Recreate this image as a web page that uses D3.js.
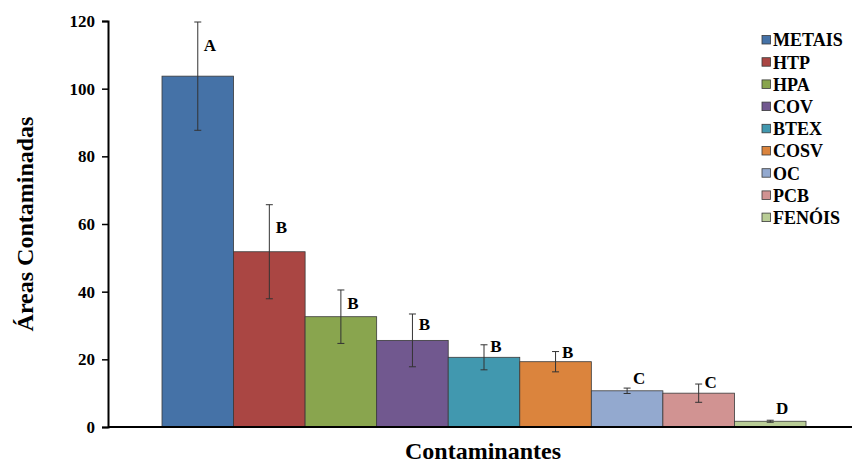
<!DOCTYPE html>
<html>
<head>
<meta charset="utf-8">
<script src="https://cdn.jsdelivr.net/npm/d3@7"></script>
<style>
  html, body { margin: 0; padding: 0; background: #fff; }
  svg { display: block; }
  text { font-family: "Liberation Serif", "Times New Roman", serif; font-weight: bold; fill: #000; }
</style>
</head>
<body>
<svg id="chart" width="852" height="465"></svg>
<script>
// Contaminant groups, mean number of contaminated areas, error and significance letters
const categories = ["METAIS", "HTP", "HPA", "COV", "BTEX", "COSV", "OC", "PCB", "FENÓIS"];
const values     = [103.7, 51.8, 32.6, 25.6, 20.6, 19.3, 10.7, 10.0, 1.7];
const errors     = [16.0, 13.9, 7.9, 7.8, 3.7, 3.0, 0.8, 2.7, 0.3];
const letters    = ["A", "B", "B", "B", "B", "B", "C", "C", "D"];
const letterAt   = [112.9, 59.2, 36.6, 30.4, 23.9, 22.1, 14.4, 13.2, 5.7];
const colors     = ["#4572A7", "#AA4643", "#89A54E", "#71588F", "#4198AF",
                    "#DB843D", "#93A9CF", "#D19392", "#B9CD96"];
const yTicks     = [0, 20, 40, 60, 80, 100, 120];

const svg = d3.select("#chart");

const y = d3.scaleLinear().domain([0, 120]).range([427, 21]);
const x = d3.scaleBand().domain(categories).range([162, 806]).padding(0);
const color = d3.scaleOrdinal().domain(categories).range(colors);

// bars
svg.append("g")
  .selectAll("rect")
  .data(categories)
  .join("rect")
  .attr("x", d => x(d))
  .attr("y", (d, i) => y(values[i]))
  .attr("width", x.bandwidth())
  .attr("height", (d, i) => y(0) - y(values[i]))
  .attr("fill", d => color(d))
  .attr("stroke", "#3a3a3a")
  .attr("stroke-width", 0.8);

// error bars
const eb = svg.append("g")
  .attr("stroke", "#333")
  .attr("stroke-width", 1)
  .selectAll("g")
  .data(categories)
  .join("g")
  .attr("transform", d => `translate(${x(d) + x.bandwidth() / 2},0)`);
eb.append("line")
  .attr("y1", (d, i) => y(values[i] + errors[i]))
  .attr("y2", (d, i) => y(values[i] - errors[i]));
eb.append("line")
  .attr("x1", -3.5).attr("x2", 3.5)
  .attr("y1", (d, i) => y(values[i] + errors[i]))
  .attr("y2", (d, i) => y(values[i] + errors[i]));
eb.append("line")
  .attr("x1", -3.5).attr("x2", 3.5)
  .attr("y1", (d, i) => y(values[i] - errors[i]))
  .attr("y2", (d, i) => y(values[i] - errors[i]));

// significance letters
svg.append("g")
  .selectAll("text")
  .data(categories)
  .join("text")
  .attr("x", d => x(d) + x.bandwidth() / 2 + 12)
  .attr("y", (d, i) => y(letterAt[i]))
  .attr("dy", "0.35em")
  .attr("text-anchor", "middle")
  .attr("font-size", 17)
  .text((d, i) => letters[i]);

// y axis
const yAxis = svg.append("g")
  .attr("transform", "translate(108,0)")
  .call(d3.axisLeft(y).tickValues(yTicks).tickSize(6).tickPadding(7));
yAxis.select(".domain").attr("stroke", "#000").attr("stroke-width", 2);
yAxis.selectAll(".tick line").attr("stroke", "#000").attr("stroke-width", 1.5);
yAxis.selectAll(".tick text")
  .attr("font-family", "Liberation Serif, Times New Roman, serif")
  .attr("font-weight", "bold")
  .attr("font-size", 17)
  .attr("fill", "#000");

// x axis baseline
svg.append("line")
  .attr("x1", 108).attr("x2", 852)
  .attr("y1", y(0)).attr("y2", y(0))
  .attr("stroke", "#000").attr("stroke-width", 2);

// axis titles
svg.append("text")
  .attr("transform", `translate(33,${(y(0) + y(120)) / 2}) rotate(-90)`)
  .attr("text-anchor", "middle")
  .attr("font-size", 24)
  .text("Áreas Contaminadas");

svg.append("text")
  .attr("x", 483).attr("y", 459)
  .attr("text-anchor", "middle")
  .attr("font-size", 24)
  .text("Contaminantes");

// legend
const legend = svg.append("g")
  .selectAll("g")
  .data(categories)
  .join("g")
  .attr("transform", (d, i) => `translate(762,${40 + i * 22.2})`);
legend.append("rect")
  .attr("x", 0).attr("y", -4.5)
  .attr("width", 8.5).attr("height", 8.5)
  .attr("fill", d => color(d))
  .attr("stroke", "#3a3a3a")
  .attr("stroke-width", 0.8);
legend.append("text")
  .attr("x", 11).attr("y", 0)
  .attr("dy", "0.35em")
  .attr("font-size", 18)
  .text(d => d);
</script>
</body>
</html>
